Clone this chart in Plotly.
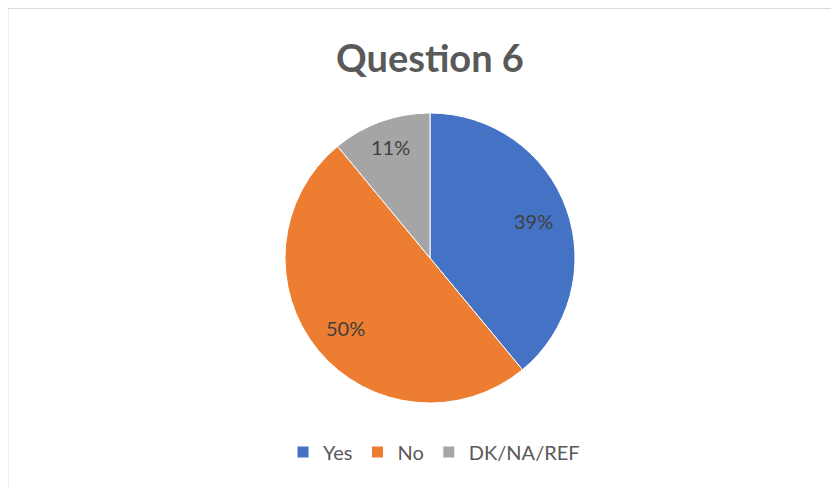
import math
import plotly.graph_objects as go

categories = ["Yes", "No", "DK/NA/REF"]
values = [39, 50, 11]
colors = ["#4472C4", "#ED7D31", "#A5A5A5"]
title_text = "Question 6"

# page has an 8px body margin; figure occupies the rest of the window
OFF = 8
W, H = 839 - OFF, 488 - OFF
cx, cy, R = 430 - OFF, 258 - OFF, 145  # pixel geometry of pie within the figure

dom_x = [(cx - R) / W, (cx + R) / W]
dom_y = [1 - (cy + R) / H, 1 - (cy - R) / H]

fig = go.Figure()
fig.add_trace(go.Pie(
    labels=categories, values=values, sort=False, direction="clockwise",
    rotation=0, marker=dict(colors=colors, line=dict(color="white", width=1)),
    textinfo="none", hoverinfo="label+percent",
    domain=dict(x=dom_x, y=dom_y),
))

total = sum(values)
cum = 0
annotations = []
for v in values:
    frac = v / total
    mid = cum + frac / 2
    ang = math.radians(90 - 360 * mid)
    rr = R * (0.76 if frac > 0.2 else 0.81)
    px = cx + rr * math.cos(ang)
    py = cy - rr * math.sin(ang)
    annotations.append(dict(
        x=px / W, y=1 - py / H, xref="paper", yref="paper",
        text=f"{round(frac * 100)}%", showarrow=False,
        font=dict(family="Lato, Calibri, sans-serif", size=20, color="#404040"),
        xanchor="center", yanchor="middle",
    ))
    cum += frac

annotations.append(dict(
    x=(430 - OFF) / W, y=1 - (57 - OFF) / H, xref="paper", yref="paper",
    text=f"<b>{title_text}</b>",
    showarrow=False, font=dict(family="Lato, Calibri, sans-serif", size=38, color="#595959"),
    xanchor="center", yanchor="middle",
))

fig.update_layout(
    width=W, height=H,
    margin=dict(l=0, r=0, t=0, b=0),
    paper_bgcolor="white", plot_bgcolor="white",
    showlegend=True,
    legend=dict(orientation="h", x=(434 - OFF) / W, xanchor="center",
                y=1 - (452 - OFF) / H, yanchor="middle",
                font=dict(family="Lato, Calibri, sans-serif", size=20, color="#595959"),
                itemwidth=30, traceorder="normal"),
    annotations=annotations,
    shapes=[dict(type="rect", xref="paper", yref="paper", x0=0, x1=1.02,
                 y0=-0.05, y1=1 - 0.5 / H, line=dict(color="#D9D9D9", width=1))],
)

fig.write_html("out.html")
